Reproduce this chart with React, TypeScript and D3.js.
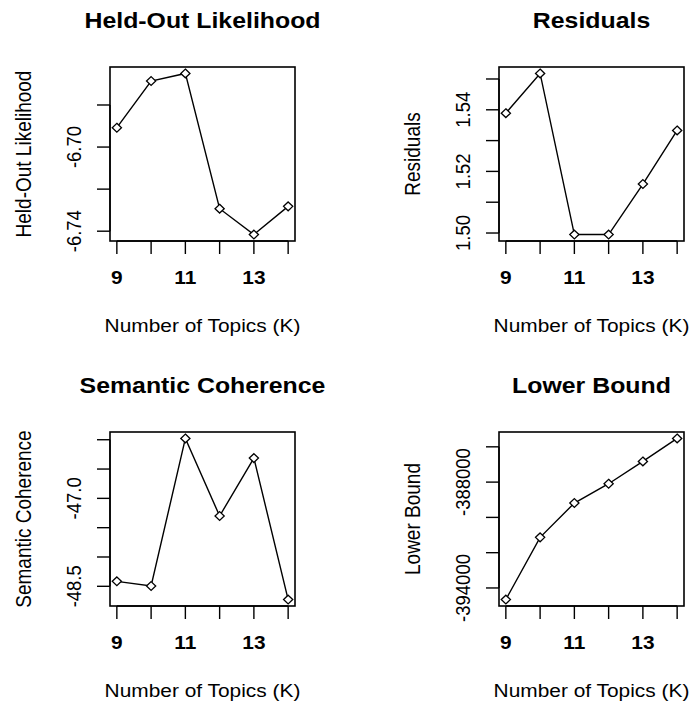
import * as d3 from "d3"

const topics = [9, 10, 11, 12, 13, 14]
const xTickLabels = ["9", "", "11", "", "13", ""]

const heldout = [-6.6908, -6.6686, -6.665, -6.7293, -6.7416, -6.7282]
const heldoutTicks = [-6.74, -6.72, -6.7, -6.68]
const heldoutLabels = ["-6.74", "", "-6.70", ""]

const residuals = [1.5389, 1.5518, 1.4995, 1.4995, 1.5159, 1.5333]
const residualTicks = [1.5, 1.51, 1.52, 1.53, 1.54, 1.55]
const residualLabels = ["1.50", "", "1.52", "", "1.54", ""]

const semcoh = [-48.415, -48.495, -45.978, -47.301, -46.313, -48.726]
const semcohTicks = [-48.5, -48.0, -47.5, -47.0, -46.5, -46.0]
const semcohLabels = ["-48.5", "", "", "-47.0", "", ""]

const bound = [-394657, -391132, -389185, -388091, -386828, -385525]
const boundTicks = [-394000, -392000, -390000, -388000, -386000]
const boundLabels = ["-394000", "", "", "-388000", ""]

const W = 692
const H = 703
const FONT = "'Liberation Sans', Arial, sans-serif"
const SX = 1.13 // the picture is a little wider than tall

// R style: range plus 4% on each side
function pad(ext: [number, number]): [number, number] {
  const d = (ext[1] - ext[0]) * 0.04
  return [ext[0] - d, ext[1] + d]
}

interface PanelProps {
  title: string
  ylab: string
  values: number[]
  yTicks: number[]
  yLabels: string[]
  left: number
  top: number
}

function Panel({ title, ylab, values, yTicks, yLabels, left, top }: PanelProps) {
  const w = 185
  const h = 174
  const x = d3.scaleLinear().domain(pad([9, 14])).range([left, left + w])
  const y = d3.scaleLinear()
    .domain(pad(d3.extent(values) as [number, number]))
    .range([top + h, top])

  const pts = topics.map((k, i) => [x(k), y(values[i])] as [number, number])
  const line = d3.line()(pts) || ""
  const cx = left + w / 2
  const cy = top + h / 2
  const tick = 13

  return (
    <g>
      <text x={0} y={0} fontSize={22} fontWeight="bold" textAnchor="middle"
        transform={`translate(${cx},${top - 39}) scale(${SX},1)`}>{title}</text>

      <rect x={left} y={top} width={w} height={h} fill="none" stroke="#000" strokeWidth={1.6} />

      {/* x axis */}
      <line x1={x(topics[0])} x2={x(topics[topics.length - 1])} y1={top + h} y2={top + h} stroke="#000" strokeWidth={1.4} />
      {topics.map((k, i) => (
        <g key={k}>
          <line x1={x(k)} x2={x(k)} y1={top + h} y2={top + h + tick} stroke="#000" strokeWidth={1.4} />
          {xTickLabels[i] && (
            <text x={0} y={0} fontSize={18.5} fontWeight="bold" textAnchor="middle"
              transform={`translate(${x(k)},${top + h + 43}) scale(${SX},1)`}>{xTickLabels[i]}</text>
          )}
        </g>
      ))}
      <text x={0} y={0} fontSize={18.5} textAnchor="middle"
        transform={`translate(${cx},${top + h + 90.5}) scale(${SX},1)`}>Number of Topics (K)</text>

      {/* y axis */}
      <line x1={left} x2={left} y1={y(yTicks[0])} y2={y(yTicks[yTicks.length - 1])} stroke="#000" strokeWidth={1.4} />
      {yTicks.map((t, i) => (
        <g key={t}>
          <line x1={left - tick} x2={left} y1={y(t)} y2={y(t)} stroke="#000" strokeWidth={1.4} />
          {yLabels[i] && (
            <text x={0} y={0} fontSize={18.5} textAnchor="middle"
              transform={`translate(${left - 29},${y(t)}) rotate(-90) scale(1,${SX})`}>{yLabels[i]}</text>
          )}
        </g>
      ))}
      <text x={0} y={0} fontSize={19} textAnchor="middle"
        transform={`translate(${left - 79},${cy}) rotate(-90) scale(1,${SX})`}>{ylab}</text>

      <path d={line} fill="none" stroke="#000" strokeWidth={1.4} />
      {pts.map(([px, py], i) => (
        <path key={i}
          d={`M${px},${py - 4.4}L${px + 4.6},${py}L${px},${py + 4.4}L${px - 4.6},${py}Z`}
          fill="#fff" stroke="#000" strokeWidth={1.3} />
      ))}
    </g>
  )
}

export default function App() {
  return (
    <svg width={W} height={H} fontFamily={FONT}
      style={{ position: "absolute", left: 0, top: 0, background: "#fff" }}>
      <rect width={W} height={H} fill="#fff" />
      <Panel title="Held-Out Likelihood" ylab="Held-Out Likelihood" values={heldout}
        yTicks={heldoutTicks} yLabels={heldoutLabels} left={110} top={67} />
      <Panel title="Residuals" ylab="Residuals" values={residuals}
        yTicks={residualTicks} yLabels={residualLabels} left={499} top={67} />
      <Panel title="Semantic Coherence" ylab="Semantic Coherence" values={semcoh}
        yTicks={semcohTicks} yLabels={semcohLabels} left={110} top={432} />
      <Panel title="Lower Bound" ylab="Lower Bound" values={bound}
        yTicks={boundTicks} yLabels={boundLabels} left={499} top={432} />
    </svg>
  )
}
